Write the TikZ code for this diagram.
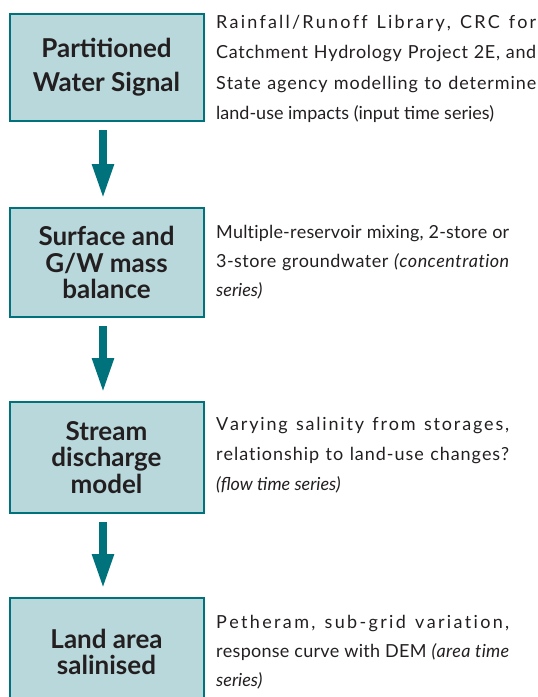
\documentclass[tikz,border=0pt]{standalone}
\usepackage{fontspec}
\setmainfont{Lato}
\usetikzlibrary{arrows.meta}
\definecolor{boxteal}{HTML}{00727C}
\definecolor{boxfill}{HTML}{B8D8DC}
\definecolor{ink}{HTML}{231F20}
\ExplSyntaxOn
\seq_new:N \l_spreadwords_seq
\NewDocumentCommand \spreadline { m m }
  {
    \makebox[#1][s]
      {
        \seq_set_split:Nnn \l_spreadwords_seq { ~ } { #2 }
        \seq_map_inline:Nn \l_spreadwords_seq
          {
            \tl_map_inline:nn { ##1 } { ####1 \hskip 0pt plus 1fil \relax }
            \c_space_tl \hskip 0pt plus 1fil \relax
          }
        \unskip \unskip \unskip
      }
  }
\ExplSyntaxOff
\begin{document}
\begin{tikzpicture}[x=1pt,y=-1pt,
  box/.style={draw=boxteal, line width=2pt, fill=boxfill, minimum width=194pt, inner sep=0pt, align=center, text=ink, font=\bfseries\fontsize{26}{26.5}\selectfont},
  flow/.style={draw=boxteal, line width=8pt, -{Triangle[width=20pt,length=35pt]}, shorten <=8pt, shorten >=8pt},
  txt/.style={anchor=base west, inner sep=0pt, text=ink, font=\fontsize{18}{20}\selectfont}]
\clip (0,0) rectangle (538,697);
\node[box, minimum height=107pt, font=\bfseries\fontsize{26}{34}\selectfont] (box1) at (106.5,67.5) {Partitioned\\Water Signal};
\node[box, minimum height=109pt] (box2) at (106.5,262.5) {Surface and\\G/W mass\\balance};
\node[box, minimum height=111pt] (box3) at (106.5,457.5) {Stream\\discharge\\model};
\node[box, minimum height=108pt] (box4) at (106.5,652) {Land area\\salinised};
\draw[flow] ([xshift=-3.5pt]box1.south) -- ([xshift=-3.5pt]box2.north);
\draw[flow] ([xshift=-3.5pt]box2.south) -- ([xshift=-3.5pt]box3.north);
\draw[flow] ([xshift=-3.5pt]box3.south) -- ([xshift=-3.5pt]box4.north);
\node[txt] (t1a) at (216,28) {\spreadline{320pt}{Rainfall/Runoff Library, CRC for}};
\node[txt] (t1b) at (216,58.5) {\spreadline{320pt}{Catchment Hydrology Project 2E, and}};
\node[txt] (t1c) at (216,89) {\spreadline{320pt}{State agency modelling to determine}};
\node[txt] (t1d) at (216,119.5) {land-use impacts (input time series)};
\node[txt] (t2a) at (216,238) {\spreadline{293pt}{Multiple-reservoir mixing, 2-store or}};
\node[txt] (t2b) at (216,267) {\spreadline{293pt}{3-store groundwater \itshape(concentration}};
\node[txt] (t2c) at (216,296) {\textit{series)}};
\node[txt] (t3a) at (216,430) {\spreadline{293pt}{Varying salinity from storages,}};
\node[txt] (t3b) at (216,460) {\spreadline{293pt}{relationship to land-use changes?}};
\node[txt] (t3c) at (216,490) {\textit{(flow time series)}};
\node[txt] (t4a) at (216,628) {\spreadline{293pt}{Petheram, sub-grid variation,}};
\node[txt] (t4b) at (216,657) {\spreadline{293pt}{response curve with DEM \itshape(area time}};
\node[txt] (t4c) at (216,686) {\textit{series)}};
\end{tikzpicture}
\end{document}
